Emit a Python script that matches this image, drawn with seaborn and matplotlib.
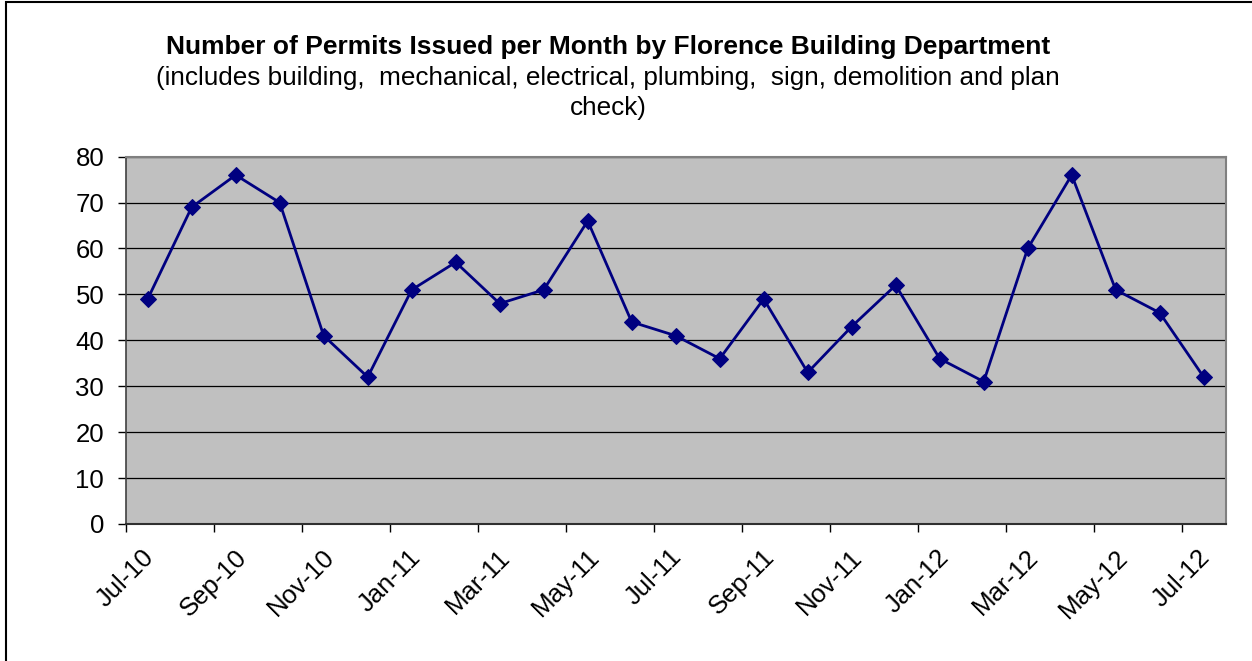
import numpy as np
import pandas as pd
import seaborn as sb
import matplotlib
matplotlib.use('Agg')
import matplotlib.pyplot as plt
from matplotlib.patches import Rectangle

# data
months = ['Jul-10', 'Aug-10', 'Sep-10', 'Oct-10', 'Nov-10', 'Dec-10',
          'Jan-11', 'Feb-11', 'Mar-11', 'Apr-11', 'May-11', 'Jun-11',
          'Jul-11', 'Aug-11', 'Sep-11', 'Oct-11', 'Nov-11', 'Dec-11',
          'Jan-12', 'Feb-12', 'Mar-12', 'Apr-12', 'May-12', 'Jun-12', 'Jul-12']
permits = [49, 69, 76, 70, 41, 32, 51, 57, 48, 51, 66, 44,
           41, 36, 49, 33, 43, 52, 36, 31, 60, 76, 51, 46, 32]

title_line = "Number of Permits Issued per Month by Florence Building Department"
sub_lines = ["(includes building,  mechanical, electrical, plumbing,  sign, demolition and plan",
             "check)"]

sb.set_style("white")
plt.rcParams['font.family'] = ['Liberation Sans', 'DejaVu Sans']
plt.rcParams['text.color'] = 'black'
plt.rcParams['xtick.color'] = 'black'
plt.rcParams['ytick.color'] = 'black'

df = pd.DataFrame({'pos': np.arange(len(months)) + 0.5, 'permits': permits})

fig = plt.figure(figsize=(12.52, 6.61), dpi=100)
ax = fig.add_axes([0.1004, 0.2073, 0.8786, 0.5557])
ax.set_facecolor('#C0C0C0')

sb.lineplot(data=df, x='pos', y='permits', ax=ax, color='#000080',
            marker='D', markersize=8, markeredgecolor='#000080',
            linewidth=2.0, zorder=3)

ax.set_xlim(0, len(months))
ax.set_ylim(0, 80)
ax.set_yticks(range(0, 81, 10))
ax.yaxis.grid(True, color='black', linewidth=0.9)
ax.set_axisbelow(True)

ticks = list(range(0, len(months), 2))
ax.set_xticks(ticks)
ax.set_xticklabels([months[i] for i in ticks], rotation=45, ha='center', va='top')
ax.set_xlabel('')
ax.set_ylabel('')

ax.tick_params(axis='x', direction='out', length=6, width=1, color='black',
               pad=9, labelsize=18.5, bottom=True)
ax.tick_params(axis='y', direction='out', length=5.5, width=1, color='black',
               pad=10, labelsize=18.5, left=True)

for side in ['top', 'right']:
    ax.spines[side].set_color('#808080')
    ax.spines[side].set_linewidth(1.5)
ax.spines['left'].set_color('#404040')
ax.spines['bottom'].set_color('#303030')
ax.spines['left'].set_linewidth(1.2)
ax.spines['bottom'].set_linewidth(1.5)

# titles
fig.text(608 / 1252, 1 - 54 / 661, title_line, ha='center', va='baseline',
         fontsize=19, fontweight='bold')
fig.text(608 / 1252, 1 - 85 / 661, sub_lines[0], ha='center', va='baseline',
         fontsize=18.8)
fig.text(608 / 1252, 1 - 115 / 661, sub_lines[1], ha='center', va='baseline',
         fontsize=18.8)

# outer chart border (only left and top visible in the crop)
fig.patches.append(Rectangle((6 / 1252, -0.1), 1.2, 1 - 1.5 / 661 + 0.1,
                             transform=fig.transFigure, fill=False,
                             edgecolor='black', linewidth=1.5))

fig.savefig('out.png', dpi=100)
